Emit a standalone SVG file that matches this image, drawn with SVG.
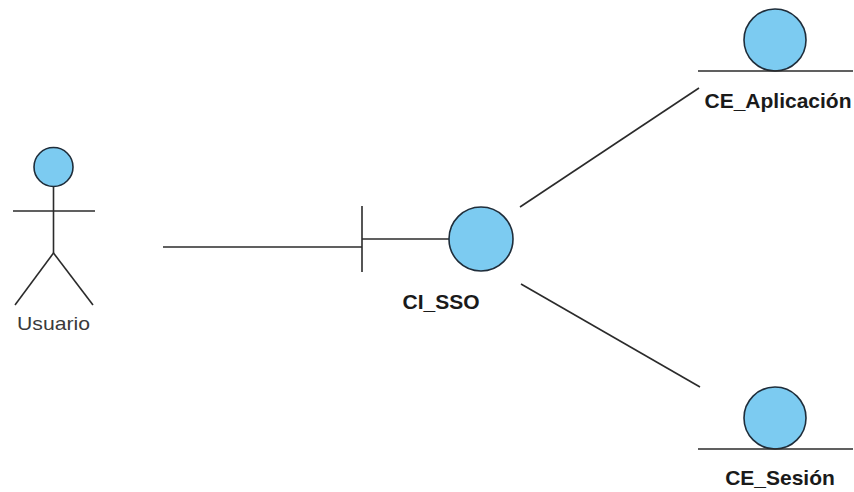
<svg xmlns="http://www.w3.org/2000/svg" width="854" height="492" viewBox="0 0 854 492">
  <style>
    .ball { fill: #7CCBF1; stroke: #1F2D3A; stroke-width: 1.6; }
    .ln { stroke: #2b2b2b; stroke-width: 1.6; fill: none; stroke-linecap: butt; }
    .lbl { font-family: "Liberation Sans", Arial, sans-serif; font-size: 21px; font-weight: bold; fill: #1a1a1a; text-anchor: middle; }
    .actor-lbl { font-family: "Liberation Sans", Arial, sans-serif; font-size: 19px; fill: #3a3a3a; text-anchor: middle; }
  </style>
  <rect width="854" height="492" fill="#ffffff"/>

  <!-- associations -->
  <g id="connectors">
    <line class="ln" x1="163" y1="247" x2="362" y2="247"/>
    <line class="ln" x1="520" y1="207" x2="699" y2="88"/>
    <line class="ln" x1="521" y1="284" x2="700" y2="387"/>
  </g>

  <!-- actor -->
  <g id="usuario">
    <circle class="ball" cx="53.5" cy="167" r="19.5"/>
    <line class="ln" x1="53.5" y1="186.5" x2="53.5" y2="253"/>
    <line class="ln" x1="13" y1="211" x2="95" y2="211"/>
    <line class="ln" x1="53.5" y1="253" x2="15" y2="305"/>
    <line class="ln" x1="53.5" y1="253" x2="93" y2="305"/>
    <text class="actor-lbl" x="53.5" y="330" textLength="73" lengthAdjust="spacingAndGlyphs">Usuario</text>
  </g>

  <!-- boundary / control -->
  <g id="ci_sso">
    <line class="ln" x1="362" y1="206" x2="362" y2="272"/>
    <line class="ln" x1="362" y1="239" x2="449" y2="239"/>
    <circle class="ball" cx="481" cy="239" r="32"/>
    <text class="lbl" x="441" y="309">CI_SSO</text>
  </g>

  <!-- entities -->
  <g id="ce_aplicacion">
    <circle class="ball" cx="775" cy="40" r="31"/>
    <line class="ln" x1="698" y1="71" x2="853" y2="71"/>
    <text class="lbl" x="778" y="108">CE_Aplicación</text>
  </g>

  <g id="ce_sesion">
    <circle class="ball" cx="775" cy="418" r="31"/>
    <line class="ln" x1="698" y1="449" x2="853" y2="449"/>
    <text class="lbl" x="780" y="485">CE_Sesión</text>
  </g>
</svg>
